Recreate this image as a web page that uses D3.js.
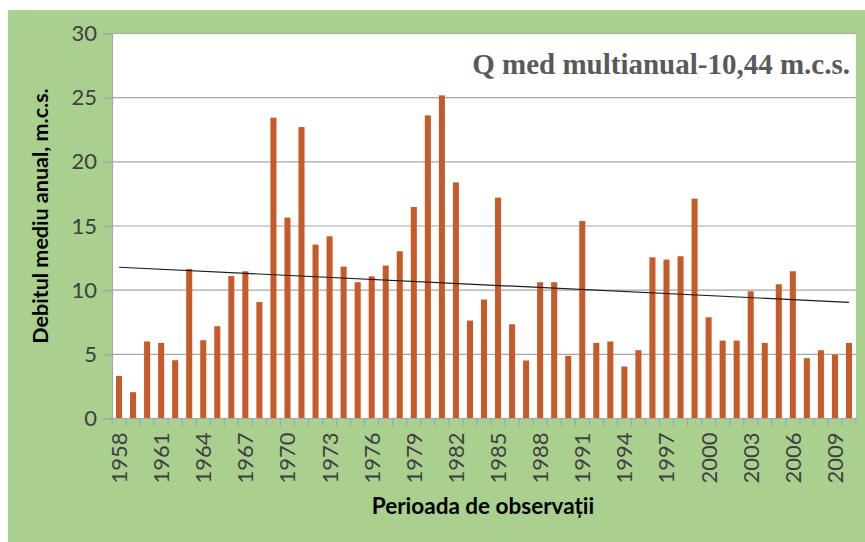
<!DOCTYPE html>
<html>
<head>
<meta charset="utf-8">
<script src="https://cdn.jsdelivr.net/npm/d3@7"></script>
<style>
  body { margin: 0; background: #fff; }
  svg { display: block; }
</style>
</head>
<body>
<div id="content"></div>
<script>
// annual mean discharge
var years = d3.range(1958, 2011);
var debit = [
  3.32, 2.05, 6.0, 5.89, 4.54, 11.65, 6.1, 7.19, 11.1, 11.47,
  9.08, 23.44, 15.65, 22.71, 13.55, 14.2, 11.84, 10.62, 11.08, 11.92,
  13.03, 16.48, 23.62, 25.18, 18.4, 7.63, 9.27, 17.21, 7.34, 4.52,
  10.62, 10.62, 4.88, 15.39, 5.89, 6.0, 4.05, 5.32, 12.56,
  12.38, 12.64, 17.13, 7.89, 6.07, 6.07, 9.91, 5.89, 10.46, 11.47,
  4.7, 5.32, 4.98, 5.89
];
var yTicks = [0, 5, 10, 15, 20, 25, 30];
var titleText = 'Q med multianual-10,44 m.c.s.';
var yTitle = 'Debitul mediu anual, m.c.s.';
var xTitle = 'Perioada de observații';

var width = 865, height = 542;
var plotLeft = 112, plotRight = 856, plotTop = 33.5, plotBottom = 418.5;

var svg = d3.select('#content').append('svg')
  .attr('width', width)
  .attr('height', height);

// green chart area
svg.append('rect')
  .attr('x', 8).attr('y', 10)
  .attr('width', width - 8).attr('height', height - 10)
  .attr('fill', '#a9d08e');

// plot area
svg.append('rect')
  .attr('x', plotLeft).attr('y', plotTop)
  .attr('width', plotRight - plotLeft).attr('height', plotBottom - plotTop)
  .attr('fill', '#ffffff');

var slot = d3.scaleBand().domain(years).range([plotLeft, plotRight]).padding(0);
var y = d3.scaleLinear().domain([0, 30]).range([plotBottom, plotTop]);

// gridlines
svg.append('g')
  .selectAll('line')
  .data(yTicks.slice(1))
  .enter().append('line')
  .attr('x1', plotLeft).attr('x2', plotRight)
  .attr('y1', d => y(d)).attr('y2', d => y(d))
  .attr('stroke', '#a6a6a6')
  .attr('stroke-width', 1.2);

// bars
var barW = slot.bandwidth() * 0.43;
svg.append('g')
  .selectAll('rect')
  .data(years)
  .enter().append('rect')
  .attr('x', d => slot(d) + (slot.bandwidth() - barW) / 2)
  .attr('width', barW)
  .attr('y', (d, i) => y(debit[i]))
  .attr('height', (d, i) => y(0) - y(debit[i]))
  .attr('fill', '#c65a28');

// linear trend (least squares over the series)
var n = years.length;
var mx = d3.mean(years), my = d3.mean(debit);
var sxy = d3.sum(years, (d, i) => (d - mx) * (debit[i] - my));
var sxx = d3.sum(years, d => (d - mx) * (d - mx));
var slope = sxy / sxx, icpt = my - slope * mx;
var ends = [years[0], years[n - 1]];
svg.append('line')
  .attr('x1', slot(ends[0]) + slot.bandwidth() / 2)
  .attr('x2', slot(ends[1]) + slot.bandwidth() / 2)
  .attr('y1', y(icpt + slope * ends[0]))
  .attr('y2', y(icpt + slope * ends[1]))
  .attr('stroke', '#1a1a1a')
  .attr('stroke-width', 1.2);

// y axis
var yAxis = svg.append('g')
  .attr('transform', 'translate(' + plotLeft + ',0)')
  .call(d3.axisLeft(y).tickValues(yTicks).tickSize(9).tickPadding(6));
yAxis.select('.domain').attr('stroke', '#a6a6a6').attr('stroke-width', 1.2);
yAxis.selectAll('.tick line').attr('stroke', '#a6a6a6').attr('stroke-width', 1.2);
yAxis.selectAll('.tick text')
  .attr('fill', '#404040')
  .style('font', '22px Lato, "Open Sans", sans-serif');

// x axis line and category boundary ticks
svg.append('line')
  .attr('x1', plotLeft - 9).attr('x2', plotRight)
  .attr('y1', plotBottom).attr('y2', plotBottom)
  .attr('stroke', '#a6a6a6').attr('stroke-width', 1.2);
svg.append('g')
  .selectAll('line')
  .data(years.concat([null]))
  .enter().append('line')
  .attr('x1', (d, i) => plotLeft + i * slot.step())
  .attr('x2', (d, i) => plotLeft + i * slot.step())
  .attr('y1', plotBottom).attr('y2', plotBottom + 8)
  .attr('stroke', '#a6a6a6').attr('stroke-width', 1.2);

// x labels, every third year
svg.append('g')
  .selectAll('text')
  .data(years.filter((d, i) => i % 3 === 0))
  .enter().append('text')
  .attr('transform', d => 'translate(' + (slot(d) + slot.bandwidth() / 2 + 8) + ',' + (plotBottom + 14) + ') rotate(-90)')
  .attr('text-anchor', 'end')
  .attr('fill', '#404040')
  .style('font', '22px Lato, "Open Sans", sans-serif')
  .text(d => d);

// titles
svg.append('text')
  .attr('x', 850).attr('y', 74)
  .attr('text-anchor', 'end')
  .attr('fill', '#595959')
  .style('font', 'bold 29px "Liberation Serif", "Times New Roman", serif')
  .text(titleText);

svg.append('text')
  .attr('transform', 'translate(48,216) rotate(-90)')
  .attr('text-anchor', 'middle')
  .attr('fill', '#000')
  .style('font', 'bold 21.5px Lato, "Open Sans", sans-serif')
  .text(yTitle);

svg.append('text')
  .attr('x', 483).attr('y', 514)
  .attr('text-anchor', 'middle')
  .attr('fill', '#000')
  .style('font', 'bold 22.5px Lato, "Open Sans", sans-serif')
  .text(xTitle);
</script>
</body>
</html>
